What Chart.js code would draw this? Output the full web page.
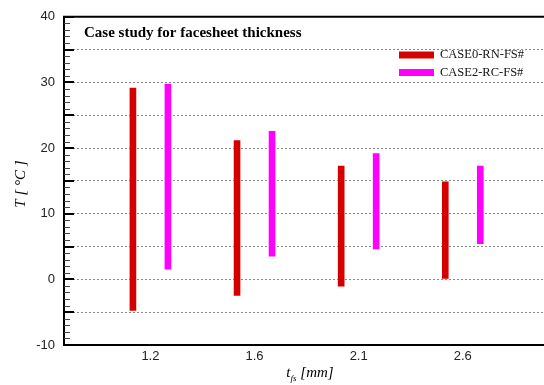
<!DOCTYPE html>
<html>
<head>
<meta charset="utf-8">
<script src="https://cdn.jsdelivr.net/npm/chart.js@4/dist/chart.umd.min.js"></script>
<style>
html, body { margin: 0; padding: 0; background: #fff; }
</style>
</head>
<body>
<canvas id="chart" width="544" height="385"></canvas>
<script>
// facesheet thickness categories (t_fs in mm)
const categories = ['1.2', '1.6', '2.1', '2.6'];

// temperature ranges T [°C], low / high end of each bar
const case0Low = [-4.8, -2.5, -1.1, 0.0];
const case0High = [29.2, 21.2, 17.3, 14.9];
const case2Low = [1.5, 3.5, 4.6, 5.4];
const case2High = [29.8, 22.6, 19.2, 17.3];

const yTickLabels = [-10, 0, 10, 20, 30, 40];

const titleText = 'Case study for facesheet thickness';

function rangeData(lows, highs) {
    return categories.map((c, i) => ({ x: i + 1, y: [lows[i], highs[i]] }));
}

const serif = '"Liberation Serif", "Times New Roman", serif';
const sans = '"Liberation Sans", Arial, sans-serif';

const decorations = {
    id: 'decorations',
    afterDraw(chart) {
        const { ctx, chartArea: a, scales: { y } } = chart;
        ctx.save();

        // top frame line
        ctx.strokeStyle = '#000';
        ctx.lineWidth = 2;
        ctx.beginPath();
        ctx.moveTo(a.left - 1, a.top);
        ctx.lineTo(a.right, a.top);
        ctx.stroke();

        // inward tick marks on the y axis
        for (let v = y.min; v <= y.max; v++) {
            const major = v % 5 === 0;
            const py = Math.round(y.getPixelForValue(v)) + (major ? 0 : 0.5);
            ctx.lineWidth = major ? 2 : 1;
            ctx.strokeStyle = major ? '#000' : '#444';
            ctx.beginPath();
            ctx.moveTo(a.left, py);
            ctx.lineTo(a.left + (major ? 10 : 6), py);
            ctx.stroke();
        }

        // title inside the plot
        ctx.fillStyle = '#000';
        ctx.font = 'bold 15px ' + serif;
        ctx.textAlign = 'left';
        ctx.textBaseline = 'alphabetic';
        ctx.fillText(titleText, a.left + 20, a.top + 20);

        // legend
        ctx.font = '12.5px ' + serif;
        chart.data.datasets.forEach((ds, i) => {
            const ly = 51.5 + i * 17.5;
            ctx.fillStyle = ds.backgroundColor;
            ctx.fillRect(399, ly, 35, 7);
            ctx.fillStyle = '#111';
            ctx.fillText(ds.label, 440, ly + 6.5);
        });

        // y axis title
        ctx.save();
        ctx.translate(21, 184);
        ctx.rotate(-Math.PI / 2);
        ctx.textAlign = 'center';
        ctx.textBaseline = 'middle';
        ctx.font = 'italic 15px ' + serif;
        ctx.fillStyle = '#000';
        ctx.fillText('T [ \u00B0C ]', 0, 0);
        ctx.restore();

        // x axis title with subscript
        const big = 'italic 15px ' + serif;
        const small = 'italic 9px ' + serif;
        ctx.font = big;
        const wT = ctx.measureText('t').width;
        const wRest = ctx.measureText(' [mm]').width;
        ctx.font = small;
        const wSub = ctx.measureText('fs').width;
        let tx = 310 - (wT + wSub + wRest) / 2;
        const base = 377;
        ctx.fillStyle = '#000';
        ctx.font = big;
        ctx.fillText('t', tx, base);
        tx += wT;
        ctx.font = small;
        ctx.fillText('fs', tx, base + 4);
        tx += wSub;
        ctx.font = big;
        ctx.fillText(' [mm]', tx, base);

        ctx.restore();
    }
};

new Chart(document.getElementById('chart'), {
    type: 'bar',
    data: {
        datasets: [
            {
                label: 'CASE0-RN-FS#',
                data: rangeData(case0Low, case0High),
                backgroundColor: '#d40000',
                borderWidth: 0
            },
            {
                label: 'CASE2-RC-FS#',
                data: rangeData(case2Low, case2High),
                backgroundColor: '#ff00ff',
                borderWidth: 0
            }
        ]
    },
    options: {
        responsive: false,
        animation: false,
        categoryPercentage: 0.672,
        barPercentage: 0.19,
        layout: { padding: { top: 12, right: 0, left: 0, bottom: 0 } },
        plugins: {
            legend: { display: false },
            title: { display: false },
            tooltip: { enabled: false }
        },
        scales: {
            x: {
                type: 'linear',
                offset: false,
                min: 0.17,
                max: 4.78,
                afterBuildTicks: (scale) => {
                    scale.ticks = categories.map((c, i) => ({ value: i + 1 }));
                },
                afterFit: (scale) => { scale.height = 40; },
                grid: { display: false, drawTicks: false },
                border: { color: '#000', width: 2 },
                ticks: {
                    padding: 4,
                    color: '#222',
                    font: { family: sans, size: 13 },
                    callback: (v) => categories[v - 1] ?? ''
                }
            },
            y: {
                min: -10,
                max: 40,
                afterBuildTicks: (scale) => {
                    const t = [];
                    for (let v = -10; v <= 40; v += 5) t.push({ value: v });
                    scale.ticks = t;
                },
                afterFit: (scale) => { scale.width = 64; },
                grid: {
                    drawTicks: false,
                    color: (c) => (c.tick && c.tick.value > -10 && c.tick.value < 40) ? '#888' : 'rgba(0,0,0,0)',
                    lineWidth: 1
                },
                border: { color: '#000', width: 2, dash: [2, 2] },
                ticks: {
                    autoSkip: false,
                    padding: 9,
                    color: '#222',
                    font: { family: sans, size: 13 },
                    callback: (v) => yTickLabels.includes(v) ? String(v) : ''
                }
            }
        }
    },
    plugins: [decorations]
});
</script>
</body>
</html>
